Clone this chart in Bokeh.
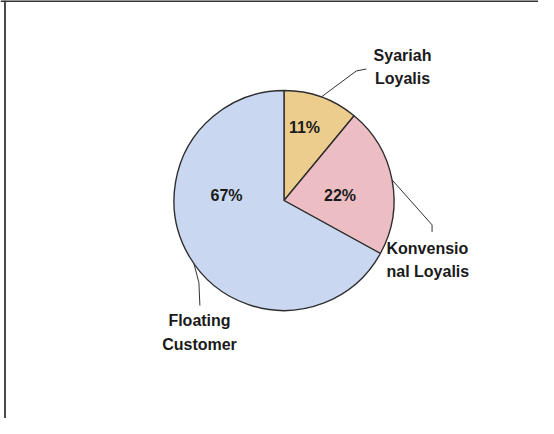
import math
from bokeh.plotting import figure
from bokeh.models import Range1d, ColumnDataSource, Span
from bokeh.core.properties import value
from bokeh.embed import file_html
from bokeh.resources import INLINE

# ---- data ----
categories = ["Syariah Loyalis", "Konvensional Loyalis", "Floating Customer"]
shares = [11, 22, 67]
pct_labels = ["11%", "22%", "67%"]
name_lines = [["Syariah", "Loyalis"], ["Konvensio", "nal Loyalis"], ["Floating", "Customer"]]
colors = ["#ECCD8E", "#ECBEC3", "#C9D7F1"]

# ---- layout (pixels) ----
W, H = 538, 418
CX, CY, R = 283.5, 218.0, 110.0
FONT = value("Liberation Sans")

p = figure(width=W, height=H, output_backend="svg", toolbar_location=None,
           x_range=Range1d(0, W), y_range=Range1d(0, H), min_border=0)
p.axis.visible = False
p.grid.visible = False
p.outline_line_color = None
p.background_fill_color = "white"

# frame lines (left and top)
p.add_layout(Span(location=4.5, dimension="height", line_color="#4a4a4a", line_width=2))
p.add_layout(Span(location=417.5, dimension="width", line_color="#333333", line_width=2))

# wedges
total = sum(shares)
starts, ends = [], []
a = math.pi / 2
for s in shares:
    starts.append(a)
    a = a - s / total * 2 * math.pi
    ends.append(a)
src = ColumnDataSource(dict(x=[CX] * 3, y=[CY] * 3, start=starts, end=ends, color=colors))
p.wedge(x="x", y="y", radius=R, start_angle="start", end_angle="end", direction="clock",
        fill_color="color", line_color="#2e2e2e", line_width=1.4, source=src)

# percentage labels (offsets from centre)
pct_off = [(20.5, 73), (56, 5), (-57.5, 5)]
p.text(x=[CX + dx for dx, dy in pct_off], y=[CY + dy for dx, dy in pct_off], text=pct_labels,
       text_font=FONT, text_font_style="bold", text_font_size="16px", text_color="#1a1a1a",
       text_align="center", text_baseline="middle")

# leader lines: start on the pie edge at a given angle, then offsets
def edge(deg):
    return CX + R * math.cos(math.radians(deg)), CY + R * math.sin(math.radians(deg))

mids = []
for st, en in zip(starts, ends):
    mids.append(math.degrees((st + en) / 2))

leader_specs = [
    (mids[0], [(0, 0), (35, 26), (45, 28)]),
    (mids[1], [(0, 0), (40, -45), (40, -52)]),
    (-145, [(0, 0), (5, -19), (6, -42)]),
]
for deg, pts in leader_specs:
    ex, ey = edge(deg)
    p.line([ex + dx for dx, dy in pts], [ey + dy for dx, dy in pts], line_color="#333333", line_width=1)

# category labels (two lines each)
name_pos = [(402, 363, 340, "center"), (386, 170, 147, "left"), (199, 98, 74, "center")]
for (lx, y1, y2, al), lines in zip(name_pos, name_lines):
    p.text(x=[lx, lx], y=[y1, y2], text=lines, text_font=FONT, text_font_style="bold",
           text_font_size="16px", text_color="#1a1a1a", text_align=al, text_baseline="middle")

open("out.html", "w").write(file_html(p, INLINE))
